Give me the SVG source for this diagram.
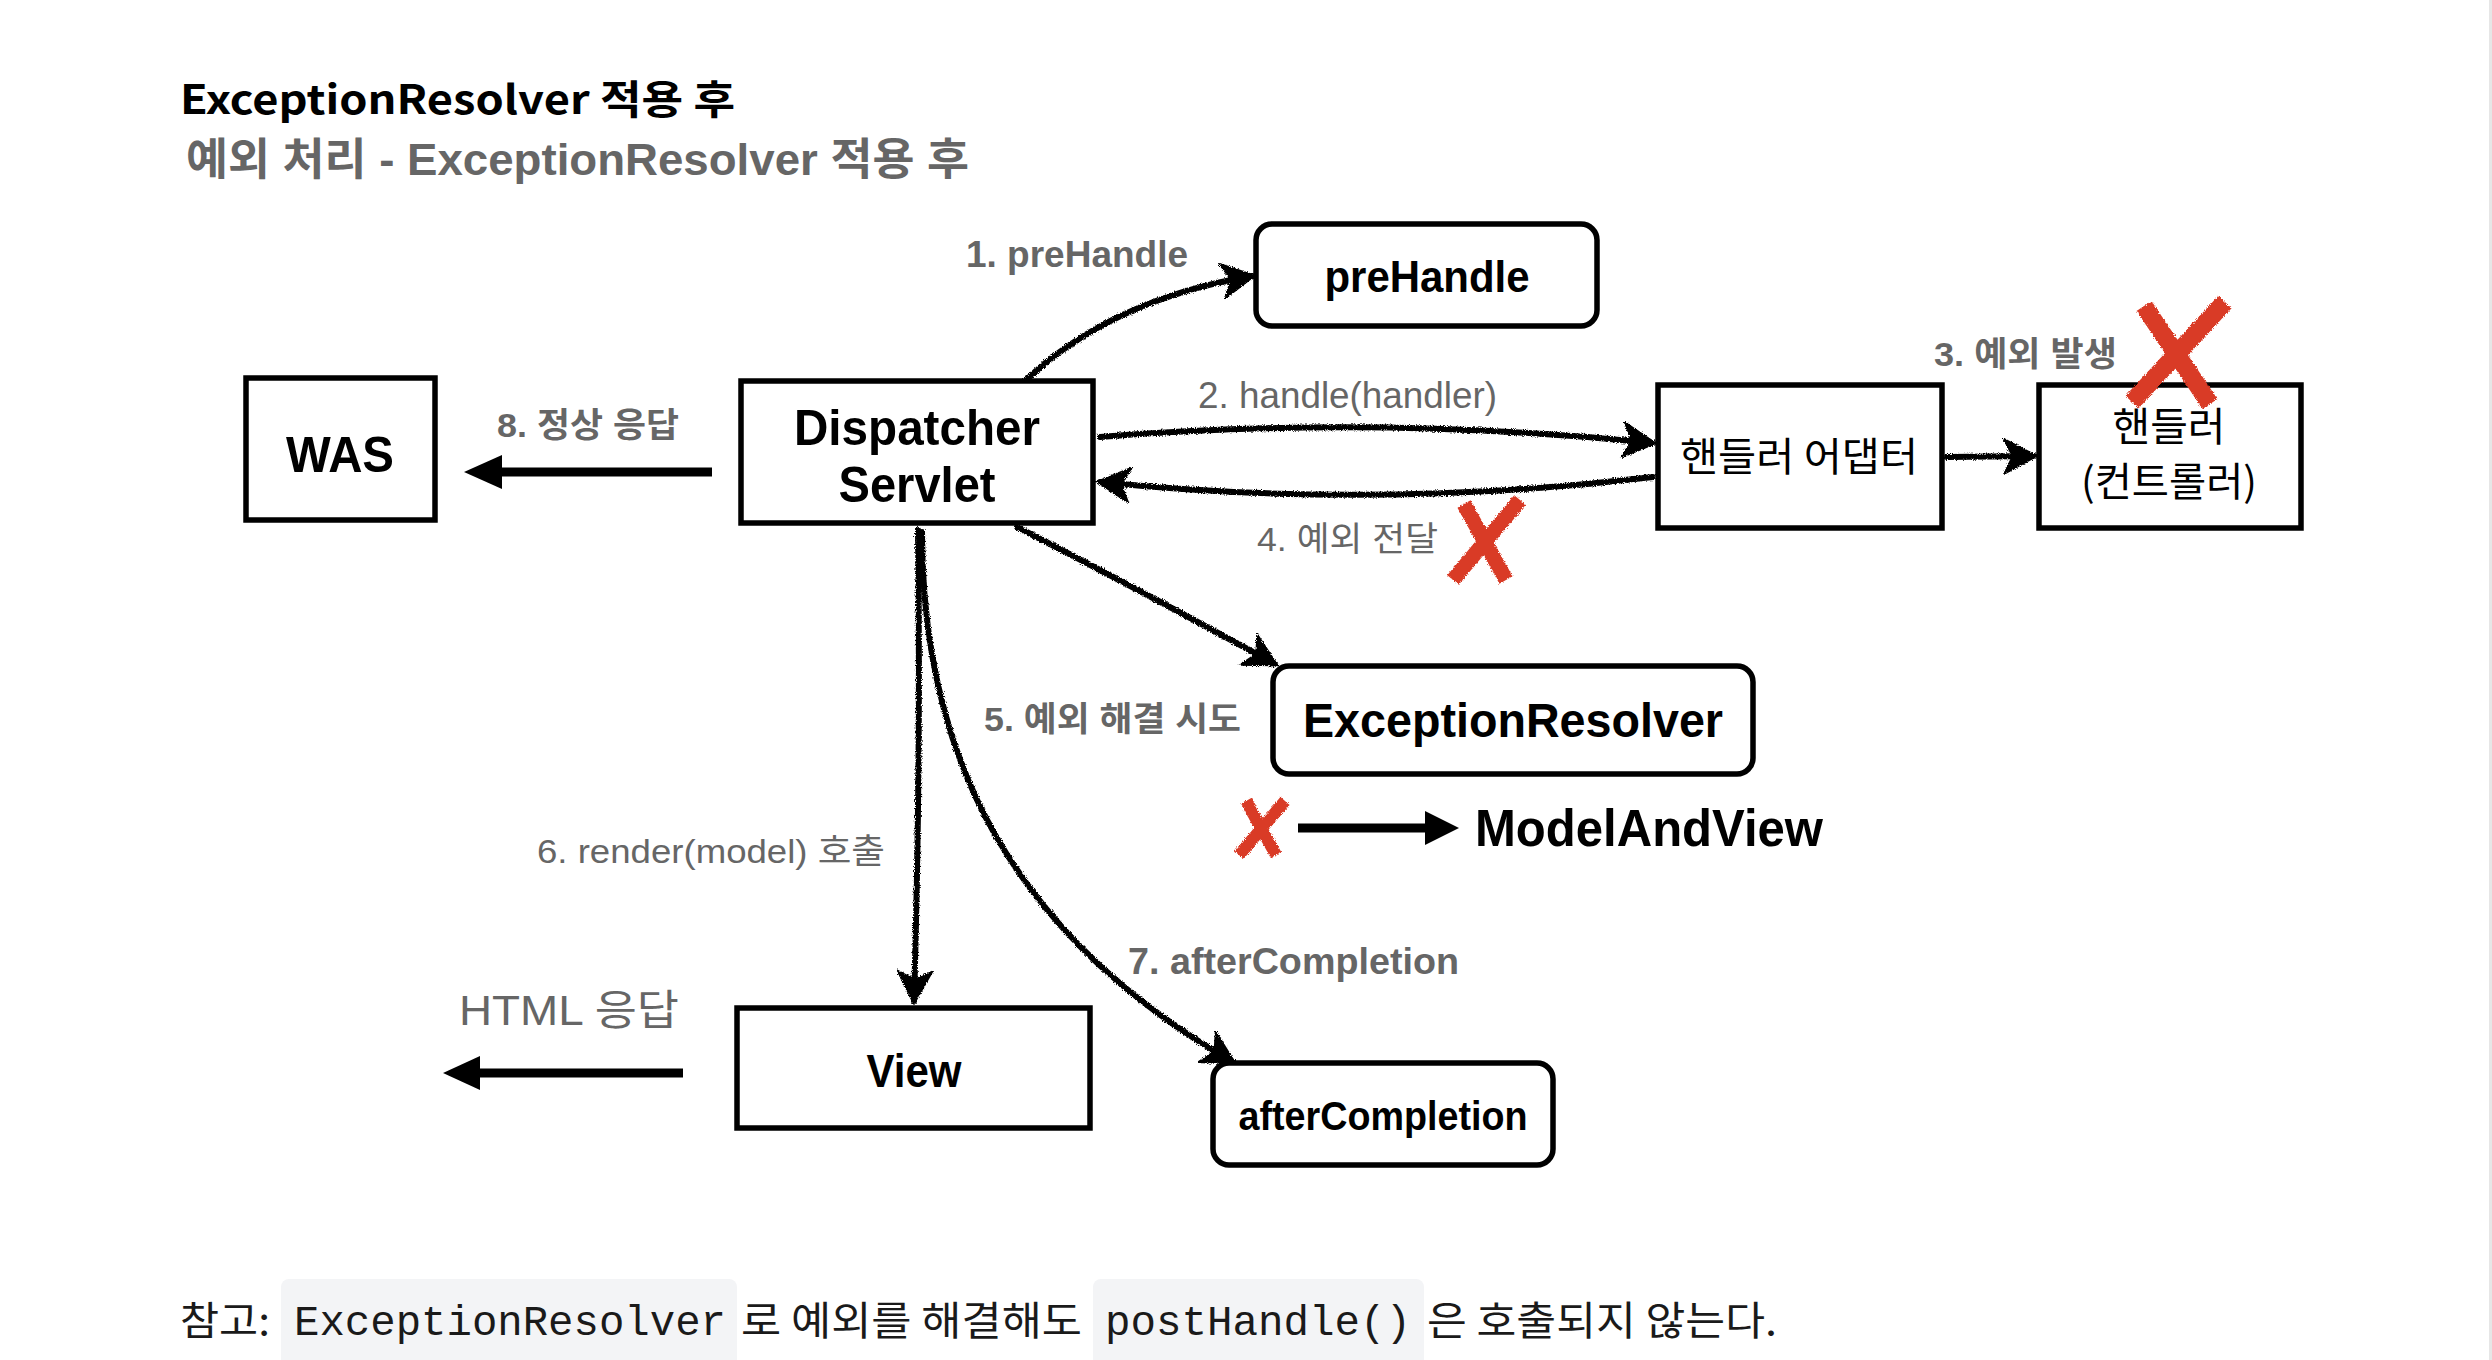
<svg xmlns="http://www.w3.org/2000/svg" width="2492" height="1360" viewBox="0 0 2492 1360">
<style>
.box{fill:#fff;stroke:#000;stroke-width:5.5}
.nt{font-family:"Liberation Sans","Noto Sans CJK KR",sans-serif;font-weight:bold;fill:#000;text-anchor:middle}
.kt{font-family:"Noto Sans CJK KR","Liberation Sans",sans-serif;font-weight:normal;fill:#000;text-anchor:middle}
.lb{font-family:"Liberation Sans","Noto Sans CJK KR",sans-serif;font-weight:bold;fill:#666}
.lr{font-family:"Liberation Sans","Noto Sans CJK KR",sans-serif;font-weight:normal;fill:#666}
.sk{fill:none;stroke:#000;stroke-width:6;stroke-linecap:round}
.thick{stroke:#000;stroke-width:9;fill:none}
.rx{stroke:#d93b27;stroke-linecap:butt;fill:none}
.body{font-family:"Noto Sans CJK KR","Liberation Sans",sans-serif;font-size:40px;fill:#1a1a1a}
.code{font-family:"Liberation Mono","DejaVu Sans Mono",monospace;font-size:42px;fill:#1a1a1a}
.cbg{fill:#f3f4f6}
</style>
<defs>
<filter id="rough" filterUnits="userSpaceOnUse" x="0" y="0" width="2492" height="1360">
<feTurbulence type="fractalNoise" baseFrequency="0.9" numOctaves="2" result="n"/>
<feDisplacementMap in="SourceGraphic" in2="n" scale="4" xChannelSelector="R" yChannelSelector="G"/>
</filter>
<marker id="ah" viewBox="0 0 20 20" refX="18" refY="10" markerWidth="36" markerHeight="36" markerUnits="userSpaceOnUse" orient="auto">
<path d="M3 2 L18 10 L3 18 L7 10 Z" fill="#000" stroke="#000" stroke-width="2.5" stroke-linejoin="miter"/>
</marker>
</defs>
<rect x="0" y="0" width="2492" height="1360" fill="#fff"/>
<line x1="2490.5" y1="0" x2="2490.5" y2="1360" stroke="#e6e6e6" stroke-width="3"/>

<g id="titles">
<text x="180" y="114" font-family="'Noto Sans CJK KR','Liberation Sans',sans-serif" font-weight="bold" font-size="40" fill="#000" textLength="555" lengthAdjust="spacingAndGlyphs">ExceptionResolver 적용 후</text>
<text x="186" y="175" class="lb" font-size="44" textLength="783" lengthAdjust="spacingAndGlyphs">예외 처리 - ExceptionResolver 적용 후</text>
</g>

<g id="connectors">
<g filter="url(#rough)">
<path class="sk" d="M1025 381 Q1110 300 1252 276" marker-end="url(#ah)"/>
<path class="sk" d="M1100 437 Q1376 415 1653 443" marker-end="url(#ah)"/>
<path class="sk" d="M1653 477 Q1376 510 1100 482" marker-end="url(#ah)"/>
<path class="sk" d="M1947 457 L2034 456" marker-end="url(#ah)"/>
<path class="sk" d="M1017 527 Q1140 590 1275 664" marker-end="url(#ah)"/>
<path class="sk" d="M918 530 Q921 760 914 1001" marker-end="url(#ah)"/>
<path class="sk" d="M922 532 C922 763 1017 938 1233 1062" marker-end="url(#ah)"/>
</g>
<line class="thick" x1="712" y1="472" x2="495" y2="472"/>
<polygon points="464,472 502,455 502,489" fill="#000"/>
<line class="thick" x1="683" y1="1073" x2="475" y2="1073"/>
<polygon points="443,1073 480,1056 480,1090" fill="#000"/>
<line class="thick" x1="1298" y1="828" x2="1430" y2="828"/>
<polygon points="1459,828 1425,811 1425,845" fill="#000"/>
</g>

<g id="labels">
<text x="966" y="267" class="lb" font-size="36" textLength="222" lengthAdjust="spacingAndGlyphs">1. preHandle</text>
<text x="1198" y="408" class="lr" font-size="36" textLength="299" lengthAdjust="spacingAndGlyphs">2. handle(handler)</text>
<text x="1934" y="366" class="lb" font-size="34" textLength="183" lengthAdjust="spacingAndGlyphs">3. 예외 발생</text>
<text x="1257" y="551" class="lr" font-size="34" textLength="181" lengthAdjust="spacingAndGlyphs">4. 예외 전달</text>
<text x="984" y="731" class="lb" font-size="34" textLength="257" lengthAdjust="spacingAndGlyphs">5. 예외 해결 시도</text>
<text x="537" y="863" class="lr" font-size="34" textLength="348" lengthAdjust="spacingAndGlyphs">6. render(model) 호출</text>
<text x="1128" y="974" class="lb" font-size="36" textLength="331" lengthAdjust="spacingAndGlyphs">7. afterCompletion</text>
<text x="497" y="437" class="lb" font-size="34" textLength="182" lengthAdjust="spacingAndGlyphs">8. 정상 응답</text>
<text x="459" y="1025" class="lr" font-size="42" textLength="220" lengthAdjust="spacingAndGlyphs">HTML 응답</text>
</g>

<g id="was">
<rect class="box" x="246" y="378" width="189" height="142"/>
<text class="nt" x="340" y="472" font-size="50" textLength="108" lengthAdjust="spacingAndGlyphs">WAS</text>
</g>
<g id="dispatcher">
<rect class="box" x="741" y="381" width="352" height="142"/>
<text class="nt" x="917" y="445" font-size="50" textLength="246" lengthAdjust="spacingAndGlyphs">Dispatcher</text>
<text class="nt" x="917" y="502" font-size="50" textLength="157" lengthAdjust="spacingAndGlyphs">Servlet</text>
</g>
<g id="prehandle">
<rect class="box" x="1256" y="224" width="341" height="102" rx="16"/>
<text class="nt" x="1427" y="292" font-size="44" textLength="205" lengthAdjust="spacingAndGlyphs">preHandle</text>
</g>
<g id="adapter">
<rect class="box" x="1658" y="385" width="284" height="143"/>
<text class="kt" x="1799" y="471" font-size="40" textLength="238" lengthAdjust="spacingAndGlyphs">핸들러 어댑터</text>
</g>
<g id="handler">
<rect class="box" x="2039" y="385" width="262" height="143"/>
<text class="kt" x="2169" y="441" font-size="40" textLength="113" lengthAdjust="spacingAndGlyphs">핸들러</text>
<text class="kt" x="2169" y="496" font-size="40" textLength="176" lengthAdjust="spacingAndGlyphs">(컨트롤러)</text>
</g>
<g id="resolver">
<rect class="box" x="1273" y="666" width="480" height="108" rx="16"/>
<text class="nt" x="1513" y="737" font-size="48" textLength="420" lengthAdjust="spacingAndGlyphs">ExceptionResolver</text>
</g>
<g id="modelandview">
<text class="nt" x="1475" y="846" font-size="52" style="text-anchor:start" textLength="348" lengthAdjust="spacingAndGlyphs">ModelAndView</text>
</g>
<g id="view">
<rect class="box" x="737" y="1008" width="353" height="120"/>
<text class="nt" x="914" y="1087" font-size="46" textLength="95" lengthAdjust="spacingAndGlyphs">View</text>
</g>
<g id="aftercompletion">
<rect class="box" x="1213" y="1063" width="340" height="102" rx="16"/>
<text class="nt" x="1383" y="1130" font-size="40" textLength="289" lengthAdjust="spacingAndGlyphs">afterCompletion</text>
</g>

<g id="crosses" filter="url(#rough)">
<path class="rx" stroke-width="18" d="M2225 302 L2132 402"/>
<path class="rx" stroke-width="18" d="M2144 306 L2210 404"/>
<path class="rx" stroke-width="15" d="M1520 500 L1453 580"/>
<path class="rx" stroke-width="15" d="M1464 504 L1506 580"/>
<path class="rx" stroke-width="12" d="M1285 801 L1239 855"/>
<path class="rx" stroke-width="12" d="M1246 801 L1276 855"/>
</g>

<g id="note">
<rect class="cbg" x="281" y="1279" width="456" height="100" rx="8"/>
<rect class="cbg" x="1093" y="1279" width="331" height="100" rx="8"/>
<text class="body" x="180" y="1335" textLength="90" lengthAdjust="spacingAndGlyphs">참고:</text>
<text class="code" x="294" y="1335" textLength="432" lengthAdjust="spacingAndGlyphs">ExceptionResolver</text>
<text class="body" x="741" y="1335" textLength="341" lengthAdjust="spacingAndGlyphs">로 예외를 해결해도</text>
<text class="code" x="1105" y="1335" textLength="306" lengthAdjust="spacingAndGlyphs">postHandle()</text>
<text class="body" x="1427" y="1335" textLength="350" lengthAdjust="spacingAndGlyphs">은 호출되지 않는다.</text>
</g>
</svg>
